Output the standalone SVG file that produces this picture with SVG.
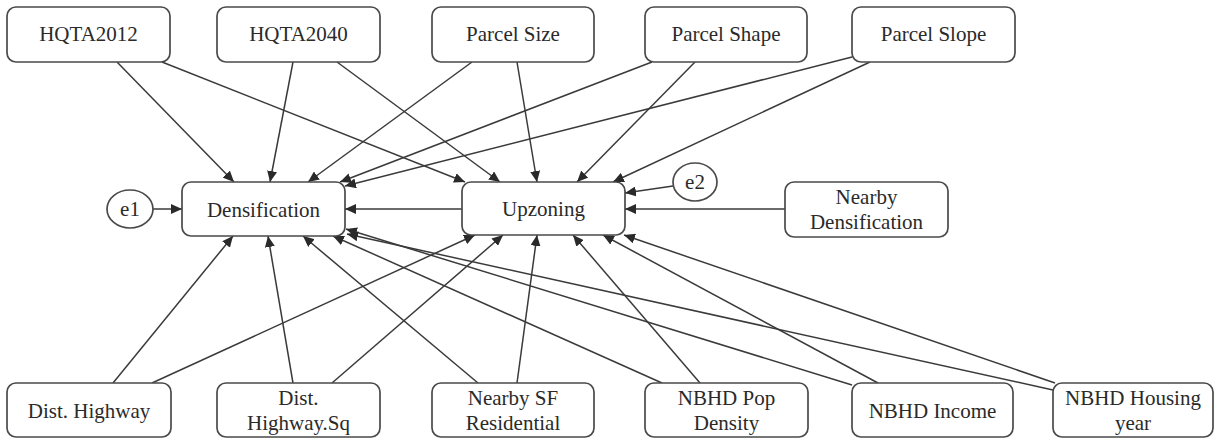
<svg xmlns="http://www.w3.org/2000/svg" width="1215" height="440" viewBox="0 0 1215 440">
<defs>
<marker id="arr" markerWidth="12" markerHeight="10" refX="11" refY="5" orient="auto" markerUnits="userSpaceOnUse">
<path d="M0,0 L11,5 L0,10 Z" fill="#2a2a2a"/>
</marker>
<style>
.box{fill:#fff;stroke:#4a4a4a;stroke-width:1.7}
.t{font-family:"Liberation Serif","Times New Roman",serif;font-size:21px;fill:#2a2a2a;text-anchor:middle}
.e line{stroke:#3a3a3a;stroke-width:1.5;marker-end:url(#arr)}
</style>
</defs>
<rect width="1215" height="440" fill="#fff"/>
<g id="connectors" class="e">
<line x1="117" y1="62" x2="234" y2="182"/>
<line x1="162" y1="62" x2="465" y2="182"/>
<line x1="293" y1="62" x2="270" y2="182"/>
<line x1="337" y1="62" x2="500" y2="182"/>
<line x1="472" y1="62" x2="308" y2="182"/>
<line x1="517" y1="62" x2="537" y2="182"/>
<line x1="652" y1="62" x2="340" y2="182"/>
<line x1="695" y1="62" x2="577" y2="182"/>
<line x1="852" y1="57" x2="345" y2="186"/>
<line x1="870" y1="62" x2="613" y2="182"/>
<line x1="153" y1="209" x2="182" y2="209"/>
<line x1="462" y1="209" x2="345" y2="209"/>
<line x1="673" y1="186" x2="625" y2="193"/>
<line x1="785" y1="209" x2="625" y2="209"/>
<line x1="113" y1="383" x2="233" y2="236"/>
<line x1="152" y1="383" x2="475" y2="235"/>
<line x1="293" y1="383" x2="268" y2="236"/>
<line x1="332" y1="383" x2="503" y2="235"/>
<line x1="478" y1="383" x2="303" y2="236"/>
<line x1="517" y1="383" x2="537" y2="235"/>
<line x1="662" y1="383" x2="333" y2="236"/>
<line x1="700" y1="383" x2="573" y2="235"/>
<line x1="852" y1="385" x2="346" y2="229"/>
<line x1="878" y1="383" x2="603" y2="235"/>
<line x1="1053" y1="390" x2="347" y2="234"/>
<line x1="1055" y1="383" x2="624" y2="235"/>
</g>
<g id="hqta2012"><rect class="box" x="7" y="7" width="163" height="55" rx="9"/><text class="t" x="88.5" y="41">HQTA2012</text></g>
<g id="hqta2040"><rect class="box" x="217" y="7" width="163" height="55" rx="9"/><text class="t" x="298.5" y="41">HQTA2040</text></g>
<g id="parcel-size"><rect class="box" x="432" y="7" width="162" height="55" rx="9"/><text class="t" x="513" y="41">Parcel Size</text></g>
<g id="parcel-shape"><rect class="box" x="645" y="7" width="162" height="55" rx="9"/><text class="t" x="726" y="41">Parcel Shape</text></g>
<g id="parcel-slope"><rect class="box" x="852" y="7" width="163" height="55" rx="9"/><text class="t" x="933.5" y="41">Parcel Slope</text></g>
<g id="e1"><ellipse class="box" cx="130" cy="209" rx="23" ry="19"/><text class="t" x="130" y="216">e1</text></g>
<g id="densification"><rect class="box" x="182" y="182" width="163" height="54" rx="9"/><text class="t" x="263.5" y="217">Densification</text></g>
<g id="upzoning"><rect class="box" x="462" y="182" width="163" height="53" rx="9"/><text class="t" x="543.5" y="216">Upzoning</text></g>
<g id="e2"><ellipse class="box" cx="695" cy="182" rx="22" ry="19"/><text class="t" x="695" y="189">e2</text></g>
<g id="nearby-densification"><rect class="box" x="785" y="182" width="163" height="55" rx="9"/><text class="t" x="866.5" y="204">Nearby</text><text class="t" x="866.5" y="229">Densification</text></g>
<g id="dist-highway"><rect class="box" x="7" y="383" width="164" height="54" rx="9"/><text class="t" x="89" y="418">Dist. Highway</text></g>
<g id="dist-highway-sq"><rect class="box" x="217" y="383" width="163" height="54" rx="9"/><text class="t" x="298.5" y="405">Dist.</text><text class="t" x="298.5" y="430">Highway.Sq</text></g>
<g id="nearby-sf"><rect class="box" x="432" y="383" width="162" height="54" rx="9"/><text class="t" x="513" y="405">Nearby SF</text><text class="t" x="513" y="430">Residential</text></g>
<g id="nbhd-pop"><rect class="box" x="645" y="383" width="163" height="54" rx="9"/><text class="t" x="726.5" y="405">NBHD Pop</text><text class="t" x="726.5" y="430">Density</text></g>
<g id="nbhd-income"><rect class="box" x="852" y="383" width="161" height="54" rx="9"/><text class="t" x="932.5" y="418">NBHD Income</text></g>
<g id="nbhd-housing"><rect class="box" x="1053" y="383" width="160" height="54" rx="9"/><text class="t" x="1133" y="405">NBHD Housing</text><text class="t" x="1133" y="430">year</text></g>
</svg>
